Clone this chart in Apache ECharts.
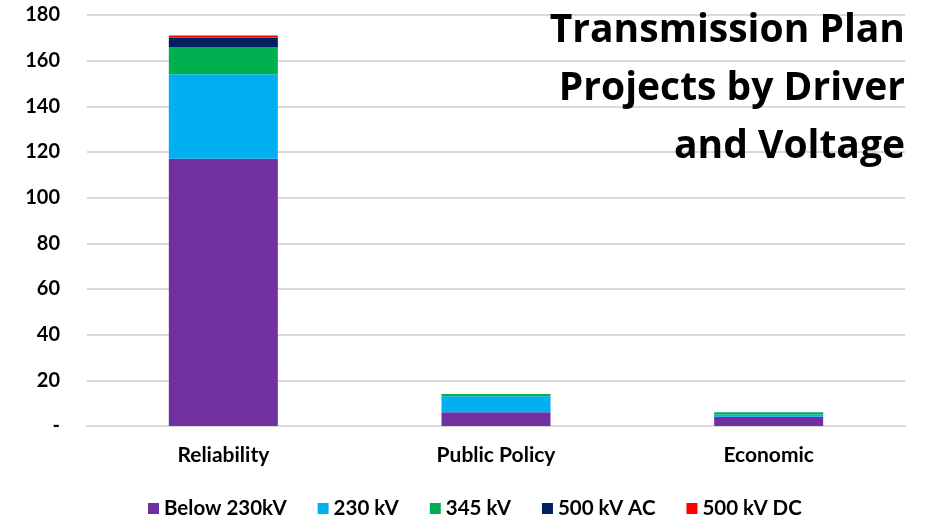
<!DOCTYPE html>
<html>
<head>
<meta charset="utf-8">
<script src="https://cdn.jsdelivr.net/npm/echarts@6/dist/echarts.min.js"></script>
<style>html,body{margin:0;padding:0;background:#fff;}#c{width:931px;height:520px;}</style>
</head>
<body>
<div id="c"></div>
<script>
const categories = ['Reliability', 'Public Policy', 'Economic'];
const seriesNames = ['Below 230kV', '230 kV', '345 kV', '500 kV AC', '500 kV DC'];
const below230 = [117, 6, 4];
const kv230 = [37, 7, 1];
const kv345 = [12, 1, 1];
const kv500ac = [4, 0, 0];
const kv500dc = [1, 0, 0];
const yTicks = [0, 20, 40, 60, 80, 100, 120, 140, 160, 180];
const colors = ['#7030A0', '#00B0F0', '#00B050', '#002060', '#FF0000'];
const values = [below230, kv230, kv345, kv500ac, kv500dc];

const FONT = 'Lato';
const chart = echarts.init(document.getElementById('c'), null, {renderer: 'canvas'});
chart.setOption({
  animation: false,
  backgroundColor: '#ffffff',
  color: colors,
  title: {
    text: 'Transmission Plan\nProjects by Driver\nand Voltage',
    left: 905,
    top: 2,
    padding: 0,
    textAlign: 'right',
    textStyle: {fontFamily: 'Open Sans', fontWeight: 'bold', fontSize: 39, lineHeight: 58, color: '#000'}
  },
  grid: {left: 87, right: 26, top: 15, bottom: 94},
  legend: {
    data: seriesNames,
    left: 148,
    top: 498,
    padding: 0,
    icon: 'rect',
    itemWidth: 11,
    itemHeight: 11,
    itemGap: 31,
    itemTextGap: 7,
    textStyle: {fontFamily: FONT, fontWeight: 'bold', fontSize: 20.5, color: '#000'}
  },
  xAxis: {
    type: 'category',
    data: categories,
    axisTick: {show: false},
    axisLine: {lineStyle: {color: '#dcd9d4', width: 2}},
    axisLabel: {fontFamily: FONT, fontWeight: 'bold', fontSize: 21, color: '#000', margin: 19}
  },
  yAxis: {
    type: 'value',
    min: yTicks[0],
    max: yTicks[yTicks.length - 1],
    interval: yTicks[1] - yTicks[0],
    axisLine: {show: false},
    axisTick: {show: false},
    splitLine: {lineStyle: {color: '#dcd9d4', width: 2}},
    axisLabel: {
      fontFamily: FONT, fontWeight: 'bold', fontSize: 20, color: '#000', margin: 27,
      formatter: v => (v === 0 ? '-' : String(v))
    }
  },
  series: seriesNames.map((name, i) => ({
    name: name,
    type: 'bar',
    stack: 'total',
    barWidth: 109,
    data: values[i],
    itemStyle: {color: colors[i]}
  }))
});
</script>
</body>
</html>
